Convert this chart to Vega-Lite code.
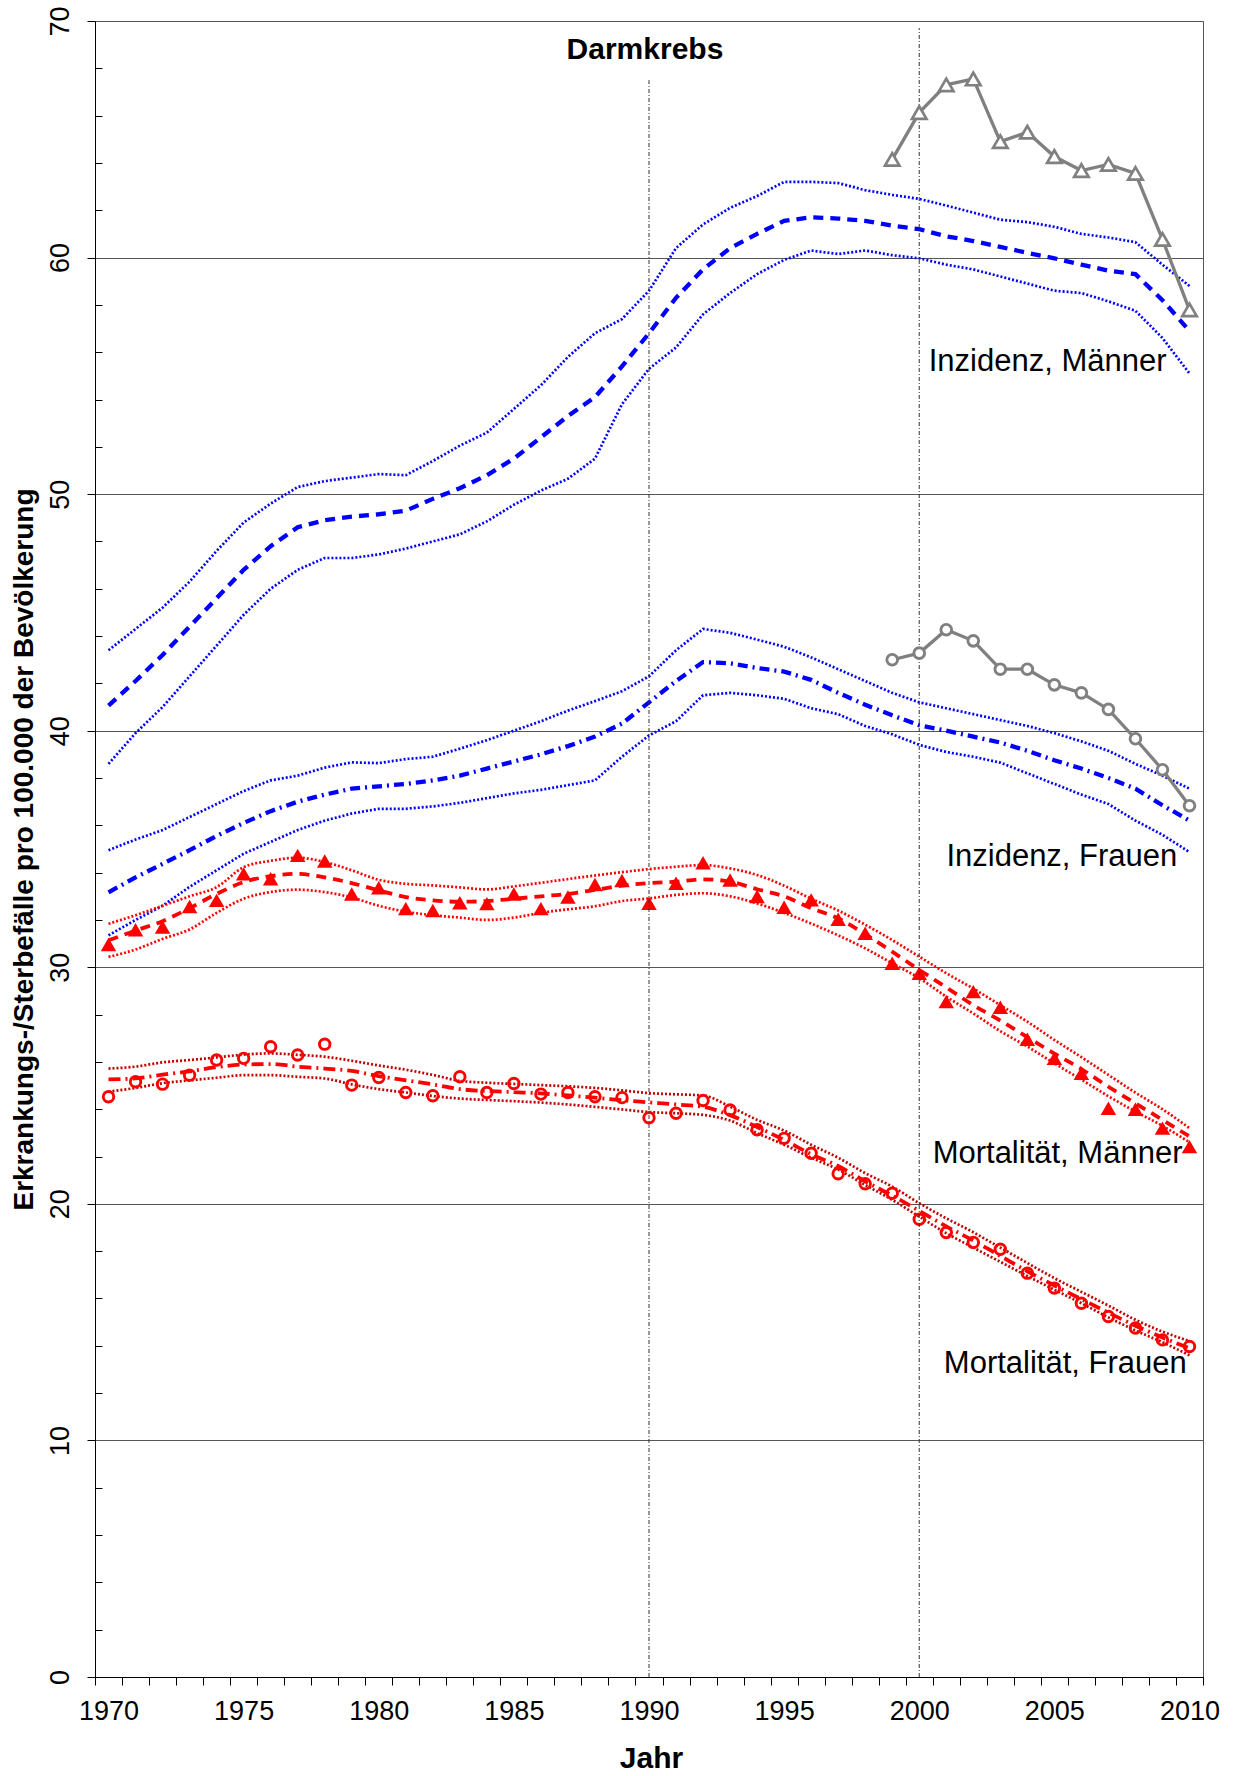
{
  "$schema": "https://vega.github.io/schema/vega-lite/v6.json",
  "width": 1108,
  "height": 1656,
  "autosize": {"type": "none"},
  "padding": {"left": 95, "top": 21, "right": 32, "bottom": 99},
  "background": "white",
  "config": {
    "view": {"stroke": "#555", "strokeWidth": 1},
    "font": "Liberation Sans",
    "text": {"font": "Liberation Sans"}
  },
  "datasets": {
    "d": [
      {"j":1970,"IMu":43.4,"IMm":41.06,"IMl":38.6,"IFu":34.95,"IFm":33.17,"IFl":31.35,"MMu":31.84,"MMm":31.14,"MMl":30.44,"MFu":25.72,"MFm":25.26,"MFl":24.74,"MMo":30.96,"MFo":24.53},
      {"j":1971,"IMu":44.3,"IMm":42.1,"IMl":39.9,"IFu":35.4,"IFm":33.8,"IFl":32.0,"MMu":32.2,"MMm":31.55,"MMl":30.75,"MFu":25.8,"MFm":25.3,"MFl":24.9,"MMo":31.59,"MFo":25.16},
      {"j":1972,"IMu":45.2,"IMm":43.2,"IMl":41.0,"IFu":35.8,"IFm":34.37,"IFl":32.6,"MMu":32.6,"MMm":31.95,"MMl":31.2,"MFu":25.98,"MFm":25.46,"MFl":25.1,"MMo":31.7,"MFo":25.06},
      {"j":1973,"IMu":46.3,"IMm":44.4,"IMl":42.3,"IFu":36.35,"IFm":34.95,"IFl":33.4,"MMu":33.0,"MMm":32.5,"MMl":31.6,"MFu":26.08,"MFm":25.6,"MFl":25.22,"MMo":32.57,"MFo":25.44},
      {"j":1974,"IMu":47.6,"IMm":45.6,"IMl":43.6,"IFu":36.9,"IFm":35.55,"IFl":34.1,"MMu":33.39,"MMm":33.1,"MMl":32.3,"MFu":26.19,"MFm":25.78,"MFl":25.33,"MMo":32.83,"MFo":26.08},
      {"j":1975,"IMu":48.8,"IMm":46.8,"IMl":44.9,"IFu":37.45,"IFm":36.1,"IFl":34.8,"MMu":34.23,"MMm":33.6,"MMl":32.9,"MFu":26.31,"MFm":25.89,"MFl":25.44,"MMo":33.95,"MFo":26.15},
      {"j":1976,"IMu":49.6,"IMm":47.8,"IMl":46.0,"IFu":37.9,"IFm":36.6,"IFl":35.3,"MMu":34.5,"MMm":33.85,"MMl":33.18,"MFu":26.36,"MFm":25.91,"MFl":25.44,"MMo":33.74,"MFo":26.64},
      {"j":1977,"IMu":50.3,"IMm":48.6,"IMl":46.8,"IFu":38.1,"IFm":37.0,"IFl":35.8,"MMu":34.63,"MMm":33.95,"MMl":33.28,"MFu":26.3,"MFm":25.8,"MFl":25.37,"MMo":34.73,"MFo":26.29},
      {"j":1978,"IMu":50.55,"IMm":48.9,"IMl":47.3,"IFu":38.44,"IFm":37.3,"IFl":36.2,"MMu":34.45,"MMm":33.8,"MMl":33.18,"MFu":26.22,"MFm":25.72,"MFl":25.3,"MMo":34.49,"MFo":26.75},
      {"j":1979,"IMu":50.7,"IMm":49.05,"IMl":47.3,"IFu":38.66,"IFm":37.55,"IFl":36.5,"MMu":34.1,"MMm":33.56,"MMl":32.95,"MFu":26.05,"MFm":25.62,"MFl":25.05,"MMo":33.1,"MFo":25.02},
      {"j":1980,"IMu":50.85,"IMm":49.15,"IMl":47.45,"IFu":38.63,"IFm":37.65,"IFl":36.7,"MMu":33.7,"MMm":33.25,"MMl":32.6,"MFu":25.85,"MFm":25.4,"MFl":24.85,"MMo":33.36,"MFo":25.34},
      {"j":1981,"IMu":50.8,"IMm":49.3,"IMl":47.7,"IFu":38.8,"IFm":37.75,"IFl":36.7,"MMu":33.53,"MMm":32.97,"MMl":32.35,"MFu":25.67,"MFm":25.22,"MFl":24.71,"MMo":32.48,"MFo":24.71},
      {"j":1982,"IMu":51.4,"IMm":49.8,"IMl":48.0,"IFu":38.9,"IFm":37.9,"IFl":36.8,"MMu":33.46,"MMm":32.83,"MMl":32.2,"MFu":25.45,"MFm":25.05,"MFl":24.56,"MMo":32.4,"MFo":24.57},
      {"j":1983,"IMu":52.05,"IMm":50.25,"IMl":48.3,"IFu":39.24,"IFm":38.1,"IFl":36.95,"MMu":33.38,"MMm":32.77,"MMl":32.1,"MFu":25.2,"MFm":24.85,"MFl":24.45,"MMo":32.73,"MFo":25.37},
      {"j":1984,"IMu":52.6,"IMm":50.8,"IMl":48.85,"IFu":39.6,"IFm":38.4,"IFl":37.15,"MMu":33.29,"MMm":32.8,"MMl":32.0,"MFu":25.12,"MFm":24.77,"MFl":24.39,"MMo":32.69,"MFo":24.71},
      {"j":1985,"IMu":53.6,"IMm":51.5,"IMl":49.55,"IFu":40.0,"IFm":38.7,"IFl":37.35,"MMu":33.42,"MMm":32.9,"MMl":32.1,"MFu":25.07,"MFm":24.72,"MFl":24.34,"MMo":33.1,"MFo":25.09},
      {"j":1986,"IMu":54.6,"IMm":52.4,"IMl":50.15,"IFu":40.4,"IFm":39.0,"IFl":37.5,"MMu":33.57,"MMm":33.0,"MMl":32.3,"MFu":25.02,"MFm":24.67,"MFl":24.28,"MMo":32.48,"MFo":24.64},
      {"j":1987,"IMu":55.8,"IMm":53.3,"IMl":50.65,"IFu":40.85,"IFm":39.35,"IFl":37.7,"MMu":33.73,"MMm":33.1,"MMl":32.45,"MFu":24.97,"MFm":24.58,"MFl":24.2,"MMo":32.97,"MFo":24.71},
      {"j":1988,"IMu":56.8,"IMm":54.1,"IMl":51.5,"IFu":41.25,"IFm":39.75,"IFl":37.9,"MMu":33.88,"MMm":33.27,"MMl":32.58,"MFu":24.9,"MFm":24.49,"MFl":24.1,"MMo":33.5,"MFo":24.53},
      {"j":1989,"IMu":57.4,"IMm":55.4,"IMl":53.8,"IFu":41.67,"IFm":40.3,"IFl":38.9,"MMu":34.02,"MMm":33.45,"MMl":32.8,"MFu":24.8,"MFm":24.38,"MFl":23.99,"MMo":33.67,"MFo":24.49},
      {"j":1990,"IMu":58.6,"IMm":56.8,"IMl":55.3,"IFu":42.3,"IFm":41.2,"IFl":39.8,"MMu":34.15,"MMm":33.56,"MMl":32.91,"MFu":24.68,"MFm":24.29,"MFl":23.88,"MMo":32.71,"MFo":23.64},
      {"j":1991,"IMu":60.4,"IMm":58.3,"IMl":56.2,"IFu":43.4,"IFm":42.1,"IFl":40.4,"MMu":34.25,"MMm":33.62,"MMl":33.06,"MFu":24.63,"MFm":24.2,"MFl":23.83,"MMo":33.55,"MFo":23.83},
      {"j":1992,"IMu":61.4,"IMm":59.5,"IMl":57.6,"IFu":44.3,"IFm":42.9,"IFl":41.5,"MMu":34.32,"MMm":33.72,"MMl":33.13,"MFu":24.58,"MFm":24.1,"MFl":23.76,"MMo":34.42,"MFo":24.37},
      {"j":1993,"IMu":62.1,"IMm":60.4,"IMl":58.5,"IFu":44.14,"IFm":42.85,"IFl":41.6,"MMu":34.18,"MMm":33.62,"MMl":33.0,"MFu":24.11,"MFm":23.75,"MFl":23.52,"MMo":33.69,"MFo":23.97},
      {"j":1994,"IMu":62.6,"IMm":61.0,"IMl":59.3,"IFu":43.85,"IFm":42.65,"IFl":41.5,"MMu":33.9,"MMm":33.3,"MMl":32.7,"MFu":23.55,"MFm":23.25,"MFl":22.99,"MMo":32.99,"MFo":23.13},
      {"j":1995,"IMu":63.2,"IMm":61.55,"IMl":59.9,"IFu":43.55,"IFm":42.5,"IFl":41.35,"MMu":33.45,"MMm":33.0,"MMl":32.3,"MFu":23.1,"MFm":22.7,"MFl":22.5,"MMo":32.54,"MFo":22.77},
      {"j":1996,"IMu":63.2,"IMm":61.7,"IMl":60.3,"IFu":43.1,"IFm":42.15,"IFl":40.95,"MMu":32.9,"MMm":32.5,"MMl":31.85,"MFu":22.5,"MFm":22.1,"MFl":21.95,"MMo":32.85,"MFo":22.14},
      {"j":1997,"IMu":63.15,"IMm":61.65,"IMl":60.15,"IFu":42.6,"IFm":41.6,"IFl":40.7,"MMu":32.4,"MMm":32.07,"MMl":31.35,"MFu":21.95,"MFm":21.6,"MFl":21.45,"MMo":32.03,"MFo":21.27},
      {"j":1998,"IMu":62.85,"IMm":61.55,"IMl":60.3,"IFu":42.1,"IFm":41.1,"IFl":40.2,"MMu":31.8,"MMm":31.4,"MMl":30.8,"MFu":21.3,"MFm":20.95,"MFl":20.8,"MMo":31.44,"MFo":20.85},
      {"j":1999,"IMu":62.65,"IMm":61.35,"IMl":60.1,"IFu":41.6,"IFm":40.65,"IFl":39.85,"MMu":31.15,"MMm":30.66,"MMl":30.17,"MFu":20.73,"MFm":20.35,"MFl":20.17,"MMo":30.17,"MFo":20.45,"IMo":64.15,"IFo":43.0},
      {"j":2000,"IMu":62.48,"IMm":61.2,"IMl":59.97,"IFu":41.2,"IFm":40.23,"IFl":39.4,"MMu":30.45,"MMm":29.89,"MMl":29.54,"MFu":20.03,"MFm":19.7,"MFl":19.46,"MMo":29.75,"MFo":19.35,"IMo":66.13,"IFo":43.28},
      {"j":2001,"IMu":62.2,"IMm":60.9,"IMl":59.7,"IFu":40.95,"IFm":40.0,"IFl":39.1,"MMu":29.75,"MMm":29.15,"MMl":28.76,"MFu":19.39,"MFm":19.05,"MFl":18.76,"MMo":28.55,"MFo":18.79,"IMo":67.3,"IFo":44.27},
      {"j":2002,"IMu":61.9,"IMm":60.7,"IMl":59.5,"IFu":40.7,"IFm":39.75,"IFl":38.9,"MMu":29.1,"MMm":28.4,"MMl":28.05,"MFu":18.8,"MFm":18.45,"MFl":18.15,"MMo":28.97,"MFo":18.37,"IMo":67.55,"IFo":43.8},
      {"j":2003,"IMu":61.6,"IMm":60.45,"IMl":59.2,"IFu":40.45,"IFm":39.5,"IFl":38.65,"MMu":28.4,"MMm":27.75,"MMl":27.3,"MFu":18.15,"MFm":17.8,"MFl":17.55,"MMo":28.31,"MFo":18.08,"IMo":64.9,"IFo":42.6},
      {"j":2004,"IMu":61.5,"IMm":60.2,"IMl":58.9,"IFu":40.2,"IFm":39.15,"IFl":38.2,"MMu":27.7,"MMm":27.05,"MMl":26.65,"MFu":17.5,"MFm":17.15,"MFl":16.95,"MMo":26.96,"MFo":17.07,"IMo":65.3,"IFo":42.6},
      {"j":2005,"IMu":61.3,"IMm":59.97,"IMl":58.6,"IFu":39.9,"IFm":38.75,"IFl":37.75,"MMu":26.93,"MMm":26.35,"MMl":25.94,"MFu":16.86,"MFm":16.55,"MFl":16.37,"MMo":26.15,"MFo":16.44,"IMo":64.27,"IFo":41.94},
      {"j":2006,"IMu":61.0,"IMm":59.7,"IMl":58.5,"IFu":39.55,"IFm":38.4,"IFl":37.3,"MMu":26.2,"MMm":25.7,"MMl":25.25,"MFu":16.28,"MFm":15.97,"MFl":15.8,"MMo":25.52,"MFo":15.8,"IMo":63.68,"IFo":41.6},
      {"j":2007,"IMu":60.85,"IMm":59.45,"IMl":58.15,"IFu":39.15,"IFm":38.0,"IFl":36.9,"MMu":25.45,"MMm":24.95,"MMl":24.55,"MFu":15.7,"MFm":15.4,"MFl":15.2,"MMo":24.04,"MFo":15.24,"IMo":63.94,"IFo":40.9},
      {"j":2008,"IMu":60.65,"IMm":59.3,"IMl":57.75,"IFu":38.6,"IFm":37.55,"IFl":36.2,"MMu":24.7,"MMm":24.25,"MMl":23.9,"MFu":15.1,"MFm":14.85,"MFl":14.65,"MMo":24.0,"MFo":14.75,"IMo":63.56,"IFo":39.66},
      {"j":2009,"IMu":59.7,"IMm":58.2,"IMl":56.6,"IFu":38.1,"IFm":36.85,"IFl":35.6,"MMu":24.0,"MMm":23.55,"MMl":23.3,"MFu":14.6,"MFm":14.35,"MFl":14.15,"MMo":23.2,"MFo":14.25,"IMo":60.77,"IFo":38.35},
      {"j":2010,"IMu":58.8,"IMm":56.9,"IMl":55.1,"IFu":37.55,"IFm":36.2,"IFl":34.87,"MMu":23.2,"MMm":22.85,"MMl":22.6,"MFu":14.2,"MFm":13.9,"MFl":13.6,"MMo":22.42,"MFo":13.97,"IMo":57.79,"IFo":36.83}
    ],
    "ann": [
      {"t":"Inzidenz, Männer","j":2009.15,"v":55.2},
      {"t":"Inzidenz, Frauen","j":2009.55,"v":34.3},
      {"t":"Mortalität, Männer","j":2009.74,"v":21.72},
      {"t":"Mortalität, Frauen","j":2009.9,"v":12.85}
    ],
    "ttl": [
      {"t":"Darmkrebs","j":1989.85,"v":68.4}
    ],
    "vl": [
      {"j":1990,"v0":0,"v1":67.5},
      {"j":2000,"v0":0,"v1":69.7}
    ]
  },
  "layer": [
    {
      "data": {"values": [{"j": 1990, "val": 0}]},
      "mark": {"type": "point", "opacity": 0},
      "encoding": {
        "x": {"field": "j", "type": "quantitative",
          "scale": {"domain": [1969.5, 2010.5], "nice": false, "zero": false},
          "axis": {
            "orient": "bottom",
            "values": [1969.5,1970.5,1971.5,1972.5,1973.5,1974.5,1975.5,1976.5,1977.5,1978.5,1979.5,1980.5,1981.5,1982.5,1983.5,1984.5,1985.5,1986.5,1987.5,1988.5,1989.5,1990.5,1991.5,1992.5,1993.5,1994.5,1995.5,1996.5,1997.5,1998.5,1999.5,2000.5,2001.5,2002.5,2003.5,2004.5,2005.5,2006.5,2007.5,2008.5,2009.5,2010.5],
            "labelExpr": "(datum.value + 0.5) % 5 == 0 ? format(datum.value + 0.5, 'd') : ''",
            "labelOffset": 13.5,
            "labelOverlap": false,
            "labelBound": false,
            "labelFlush": false,
            "labelFontSize": 27,
            "labelFont": "Liberation Sans",
            "labelColor": "#000",
            "labelPadding": 13,
            "tickSize": 8,
            "tickColor": "#000",
            "domainColor": "#000",
            "grid": false,
            "title": "Jahr",
            "titleFont": "Liberation Sans",
            "titleFontSize": 30,
            "titleFontWeight": "bold",
            "titleColor": "#000",
            "titleX": 556,
            "titleY": 81,
            "titleAlign": "center",
            "titleBaseline": "middle"
          }
        },
        "y": {"field": "val", "type": "quantitative",
          "scale": {"domain": [0, 70], "nice": false, "zero": true},
          "axis": {
            "orient": "left",
            "values": [0,10,20,30,40,50,60,70],
            "tickSize": 8,
            "tickColor": "#000",
            "domainColor": "#000",
            "grid": true,
            "gridColor": "#555",
            "gridWidth": 1,
            "labelAngle": 270,
            "labelAlign": "center",
            "labelBaseline": "alphabetic",
            "labelPadding": 19,
            "labelFontSize": 27,
            "labelFont": "Liberation Sans",
            "labelColor": "#000",
            "title": "Erkrankungs-/Sterbefälle pro 100.000 der Bevölkerung",
            "titleFont": "Liberation Sans",
            "titleFontSize": 28,
            "titleFontWeight": "bold",
            "titleColor": "#000",
            "titleAngle": 270,
            "titleX": -71,
            "titleY": 828,
            "titleAlign": "center",
            "titleBaseline": "middle"
          }
        }
      }
    },
    {
      "data": {"values": [{"val": 0}]},
      "mark": {"type": "point", "opacity": 0},
      "encoding": {
        "y": {"field": "val", "type": "quantitative",
          "axis": {
            "orient": "left",
            "values": [2,4,6,8,12,14,16,18,22,24,26,28,32,34,36,38,42,44,46,48,52,54,56,58,62,64,66,68],
            "tickSize": -7,
            "tickColor": "#000",
            "labels": false,
            "domain": false,
            "grid": false,
            "title": null
          }
        }
      }
    },
    {
      "data": {"name": "d"},
      "layer": [
        {
          "transform": [{"fold": ["IMu","IMl","IFu","IFl"], "as": ["s","val"]}],
          "mark": {"type": "line", "color": "#0000FF", "strokeWidth": 2.7, "strokeDash": [2,2]},
          "encoding": {
            "x": {"field": "j", "type": "quantitative", "axis": null},
            "y": {"field": "val", "type": "quantitative", "axis": null},
            "detail": {"field": "s"}
          }
        },
        {
          "transform": [{"fold": ["IMm"], "as": ["s","val"]}],
          "mark": {"type": "line", "color": "#0000FF", "strokeWidth": 4.3, "strokeDash": [10,7]},
          "encoding": {
            "x": {"field": "j", "type": "quantitative", "axis": null},
            "y": {"field": "val", "type": "quantitative", "axis": null}
          }
        },
        {
          "transform": [{"fold": ["IFm"], "as": ["s","val"]}],
          "mark": {"type": "line", "color": "#0000FF", "strokeWidth": 4.3, "strokeDash": [10,5,2,5]},
          "encoding": {
            "x": {"field": "j", "type": "quantitative", "axis": null},
            "y": {"field": "val", "type": "quantitative", "axis": null}
          }
        },
        {
          "transform": [{"fold": ["MMu","MMl"], "as": ["s","val"]}],
          "mark": {"type": "line", "color": "#FF0000", "strokeWidth": 2.7, "strokeDash": [2,2], "interpolate": "monotone"},
          "encoding": {
            "x": {"field": "j", "type": "quantitative", "axis": null},
            "y": {"field": "val", "type": "quantitative", "axis": null},
            "detail": {"field": "s"}
          }
        },
        {
          "transform": [{"fold": ["MMm"], "as": ["s","val"]}],
          "mark": {"type": "line", "color": "#FF0000", "strokeWidth": 3.8, "strokeDash": [10,7], "interpolate": "monotone"},
          "encoding": {
            "x": {"field": "j", "type": "quantitative", "axis": null},
            "y": {"field": "val", "type": "quantitative", "axis": null}
          }
        },
        {
          "transform": [{"fold": ["MFu","MFl"], "as": ["s","val"]}],
          "mark": {"type": "line", "color": "#C00000", "strokeWidth": 2.7, "strokeDash": [2,2], "interpolate": "monotone"},
          "encoding": {
            "x": {"field": "j", "type": "quantitative", "axis": null},
            "y": {"field": "val", "type": "quantitative", "axis": null},
            "detail": {"field": "s"}
          }
        },
        {
          "transform": [{"fold": ["MFm"], "as": ["s","val"]}],
          "mark": {"type": "line", "color": "#FF0000", "strokeWidth": 3.8, "strokeDash": [12,5,2,5], "interpolate": "monotone"},
          "encoding": {
            "x": {"field": "j", "type": "quantitative", "axis": null},
            "y": {"field": "val", "type": "quantitative", "axis": null}
          }
        },
        {
          "transform": [{"fold": ["MMo"], "as": ["s","val"]}, {"filter": "isValid(datum.val)"}],
          "mark": {"type": "point", "shape": "triangle-up", "filled": true, "color": "#FF0000", "size": 240, "opacity": 1},
          "encoding": {
            "x": {"field": "j", "type": "quantitative", "axis": null},
            "y": {"field": "val", "type": "quantitative", "axis": null}
          }
        },
        {
          "transform": [{"fold": ["MFo"], "as": ["s","val"]}, {"filter": "isValid(datum.val)"}],
          "mark": {"type": "point", "shape": "circle", "filled": false, "stroke": "#FF0000", "strokeWidth": 2.9, "size": 110, "opacity": 1},
          "encoding": {
            "x": {"field": "j", "type": "quantitative", "axis": null},
            "y": {"field": "val", "type": "quantitative", "axis": null}
          }
        },
        {
          "data": {"name": "vl"},
          "mark": {"type": "rule", "color": "#333", "strokeWidth": 1, "strokeDash": [4,2,1,2]},
          "encoding": {
            "x": {"field": "j", "type": "quantitative", "axis": null},
            "y": {"field": "v0", "type": "quantitative", "axis": null},
            "y2": {"field": "v1"}
          }
        },
        {
          "transform": [{"fold": ["IMo","IFo"], "as": ["s","val"]}, {"filter": "isValid(datum.val)"}],
          "mark": {"type": "line", "color": "#808080", "strokeWidth": 3.3},
          "encoding": {
            "x": {"field": "j", "type": "quantitative", "axis": null},
            "y": {"field": "val", "type": "quantitative", "axis": null},
            "detail": {"field": "s"}
          }
        },
        {
          "transform": [{"fold": ["IMo"], "as": ["s","val"]}, {"filter": "isValid(datum.val)"}],
          "mark": {"type": "point", "shape": "triangle-up", "filled": true, "fill": "white", "stroke": "#808080", "strokeWidth": 2.7, "size": 210, "opacity": 1},
          "encoding": {
            "x": {"field": "j", "type": "quantitative", "axis": null},
            "y": {"field": "val", "type": "quantitative", "axis": null}
          }
        },
        {
          "transform": [{"fold": ["IFo"], "as": ["s","val"]}, {"filter": "isValid(datum.val)"}],
          "mark": {"type": "point", "shape": "circle", "filled": true, "fill": "white", "stroke": "#808080", "strokeWidth": 2.9, "size": 115, "opacity": 1},
          "encoding": {
            "x": {"field": "j", "type": "quantitative", "axis": null},
            "y": {"field": "val", "type": "quantitative", "axis": null}
          }
        },
        {
          "data": {"name": "ann"},
          "mark": {"type": "text", "align": "right", "baseline": "alphabetic", "fontSize": 31, "font": "Liberation Sans", "color": "#000"},
          "encoding": {
            "x": {"field": "j", "type": "quantitative", "axis": null},
            "y": {"field": "v", "type": "quantitative", "axis": null},
            "text": {"field": "t"}
          }
        },
        {
          "data": {"name": "ttl"},
          "mark": {"type": "text", "align": "center", "baseline": "alphabetic", "fontSize": 30, "fontWeight": "bold", "font": "Liberation Sans", "color": "#000"},
          "encoding": {
            "x": {"field": "j", "type": "quantitative", "axis": null},
            "y": {"field": "v", "type": "quantitative", "axis": null},
            "text": {"field": "t"}
          }
        }
      ]
    }
  ],
  "resolve": {"axis": {"x": "independent", "y": "independent"}}
}
